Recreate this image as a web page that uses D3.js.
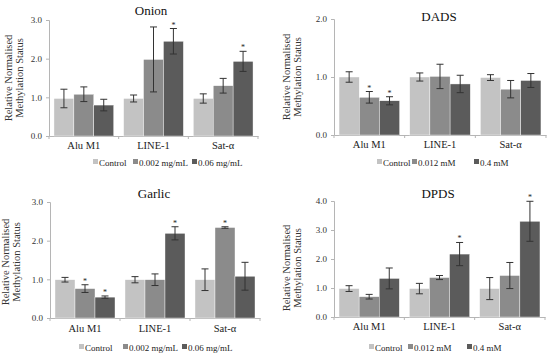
<!DOCTYPE html>
<html>
<head>
<meta charset="utf-8">
<script src="https://cdn.jsdelivr.net/npm/d3@7"></script>
<style>
  body { margin: 0; background: #fff; }
  svg { display: block; font-family: "Liberation Serif", "DejaVu Serif", serif; }
</style>
</head>
<body>
<svg id="chart" width="550" height="359"></svg>
<script>
// shared categories
const categories = ["Alu M1", "LINE-1", "Sat-\u03b1"];

// Onion
const onionSeries = ["Control", "0.002 mg/mL", "0.06 mg/mL"];
const onionValues = [[0.97, 0.97, 0.97], [1.08, 1.98, 1.30], [0.80, 2.45, 1.93]];
const onionErrors = [[0.24, 0.09, 0.12], [0.19, 0.84, 0.19], [0.15, 0.33, 0.26]];
const onionStars = [[0, 0, 0], [0, 0, 0], [0, 1, 1]];
const onionTicks = [0, 1, 2, 3];

// DADS
const dadsSeries = ["Control", "0.012 mM", "0.4 mM"];
const dadsValues = [[1.00, 1.00, 0.99], [0.65, 1.01, 0.79], [0.59, 0.88, 0.94]];
const dadsErrors = [[0.09, 0.07, 0.05], [0.10, 0.21, 0.15], [0.07, 0.15, 0.12]];
const dadsStars = [[0, 0, 0], [1, 0, 0], [1, 0, 0]];
const dadsTicks = [0, 1, 2];

// Garlic
const garlicSeries = ["Control", "0.002 mg/mL", "0.06 mg/mL"];
const garlicValues = [[0.99, 0.99, 0.99], [0.76, 0.99, 2.34], [0.54, 2.19, 1.08]];
const garlicErrors = [[0.06, 0.08, 0.28], [0.10, 0.15, 0.02], [0.03, 0.17, 0.36]];
const garlicStars = [[0, 0, 0], [1, 0, 1], [1, 1, 0]];
const garlicTicks = [0, 1, 2, 3];

// DPDS
const dpdsSeries = ["Control", "0.012 mM", "0.4 mM"];
const dpdsValues = [[0.98, 0.98, 0.98], [0.70, 1.36, 1.43], [1.33, 2.17, 3.30]];
const dpdsErrors = [[0.10, 0.18, 0.38], [0.08, 0.07, 0.45], [0.36, 0.40, 0.69]];
const dpdsStars = [[0, 0, 0], [0, 0, 0], [0, 1, 1]];
const dpdsTicks = [0, 1, 2, 3, 4];

const colors = ["#c3c3c3", "#8b8b8b", "#5b5b5b"];

const panels = [
  { title: "Onion", series: onionSeries, values: onionValues, errors: onionErrors, stars: onionStars, ticks: onionTicks,
    x0: 49, x1: 258, yTop: 20, yBot: 136, titleX: 151, titleY: 15, labelX: 12, labelY: 78, catY: 149,
    legendY: 163, legendX: [93, 133, 192] },
  { title: "DADS", series: dadsSeries, values: dadsValues, errors: dadsErrors, stars: dadsStars, ticks: dadsTicks,
    x0: 334, x1: 546, yTop: 19, yBot: 135, titleX: 439, titleY: 21, labelX: 290, labelY: 77, catY: 148,
    legendY: 163, legendX: [377, 412, 474] },
  { title: "Garlic", series: garlicSeries, values: garlicValues, errors: garlicErrors, stars: garlicStars, ticks: garlicTicks,
    x0: 50, x1: 260, yTop: 202, yBot: 318, titleX: 154, titleY: 198, labelX: 9, labelY: 262, catY: 332,
    legendY: 348, legendX: [79, 123, 182] },
  { title: "DPDS", series: dpdsSeries, values: dpdsValues, errors: dpdsErrors, stars: dpdsStars, ticks: dpdsTicks,
    x0: 334, x1: 545, yTop: 201, yBot: 317, titleX: 438, titleY: 198, labelX: 290, labelY: 268, catY: 330,
    legendY: 348, legendX: [369, 408, 467] }
];

const svg = d3.select("#chart");
const axisColor = "#b5b5b5";

panels.forEach(function (p) {
  const g = svg.append("g");

  const x = d3.scaleBand()
    .domain(categories)
    .range([p.x0, p.x1])
    .paddingInner(0)
    .paddingOuter(0);

  const xSub = d3.scaleBand()
    .domain(d3.range(p.series.length))
    .range([0, x.bandwidth()])
    .paddingInner(0)
    .paddingOuter(0.25);

  const y = d3.scaleLinear()
    .domain([0, d3.max(p.ticks)])
    .range([p.yBot, p.yTop]);

  // y axis
  const yAxis = g.append("g")
    .attr("transform", `translate(${p.x0},0)`)
    .call(d3.axisLeft(y).tickValues(p.ticks).tickFormat(d3.format(".1f")).tickSize(3).tickPadding(4));
  yAxis.attr("font-family", null);
  yAxis.select(".domain").attr("stroke", axisColor);
  yAxis.selectAll(".tick line").attr("stroke", axisColor);
  yAxis.selectAll("text").attr("font-size", 9).attr("fill", "#333");

  // x axis
  const xAxis = g.append("g")
    .attr("transform", `translate(0,${p.yBot})`)
    .call(d3.axisBottom(x).tickSize(0).tickFormat(""));
  xAxis.select(".domain").attr("stroke", axisColor);
  xAxis.selectAll(".tick").remove();
  g.append("g")
    .selectAll("line")
    .data(d3.range(categories.length + 1))
    .join("line")
    .attr("x1", i => i < categories.length ? x(categories[i]) : p.x1)
    .attr("x2", i => i < categories.length ? x(categories[i]) : p.x1)
    .attr("y1", p.yBot)
    .attr("y2", p.yBot + 3)
    .attr("stroke", axisColor);

  // category labels
  g.append("g")
    .selectAll("text")
    .data(categories)
    .join("text")
    .attr("x", d => x(d) + x.bandwidth() / 2)
    .attr("y", p.catY)
    .attr("text-anchor", "middle")
    .attr("font-size", 10.5)
    .attr("fill", "#222")
    .text(d => d);

  // bars
  const cells = [];
  p.series.forEach(function (s, si) {
    categories.forEach(function (c, ci) {
      cells.push({ si: si, cat: c, value: p.values[si][ci], err: p.errors[si][ci], star: p.stars[si][ci] });
    });
  });

  const bars = g.append("g")
    .selectAll("g")
    .data(cells)
    .join("g")
    .attr("transform", d => `translate(${x(d.cat) + xSub(d.si)},0)`);

  bars.append("rect")
    .attr("x", 0)
    .attr("y", d => y(d.value))
    .attr("width", xSub.bandwidth())
    .attr("height", d => p.yBot - y(d.value))
    .attr("fill", d => colors[d.si])
    .attr("stroke", "#fff")
    .attr("stroke-width", 0.4);

  const cx = xSub.bandwidth() / 2;
  bars.append("line")
    .attr("x1", cx).attr("x2", cx)
    .attr("y1", d => y(d.value + d.err))
    .attr("y2", d => y(d.value - d.err))
    .attr("stroke", "#333").attr("stroke-width", 1);
  bars.append("line")
    .attr("x1", cx - 3.5).attr("x2", cx + 3.5)
    .attr("y1", d => y(d.value + d.err))
    .attr("y2", d => y(d.value + d.err))
    .attr("stroke", "#333").attr("stroke-width", 1);
  bars.append("line")
    .attr("x1", cx - 3.5).attr("x2", cx + 3.5)
    .attr("y1", d => y(d.value - d.err))
    .attr("y2", d => y(d.value - d.err))
    .attr("stroke", "#333").attr("stroke-width", 1);

  bars.filter(d => d.star)
    .append("text")
    .attr("x", cx)
    .attr("y", d => y(d.value + d.err) - 1)
    .attr("text-anchor", "middle")
    .attr("font-size", 8)
    .attr("fill", "#222")
    .text("*");

  // title
  g.append("text")
    .attr("x", p.titleX)
    .attr("y", p.titleY)
    .attr("text-anchor", "middle")
    .attr("font-size", 13)
    .attr("fill", "#111")
    .text(p.title);

  // y label
  const yl = g.append("text")
    .attr("transform", `translate(${p.labelX},${p.labelY}) rotate(-90)`)
    .attr("text-anchor", "middle")
    .attr("font-size", 10.5)
    .attr("fill", "#333");
  yl.append("tspan").attr("x", 0).attr("dy", 0).text("Relative Normalised");
  yl.append("tspan").attr("x", 0).attr("dy", 10.5).text("Methylation Status");

  // legend
  const leg = g.append("g")
    .selectAll("g")
    .data(p.series)
    .join("g")
    .attr("transform", (d, i) => `translate(${p.legendX[i]},${p.legendY})`);
  leg.append("rect")
    .attr("x", 0).attr("y", -4)
    .attr("width", 5).attr("height", 5)
    .attr("fill", (d, i) => colors[i]);
  leg.append("text")
    .attr("x", 6)
    .attr("y", 2.5)
    .attr("font-size", 9)
    .attr("fill", "#222")
    .text(d => d);
});
</script>
</body>
</html>
